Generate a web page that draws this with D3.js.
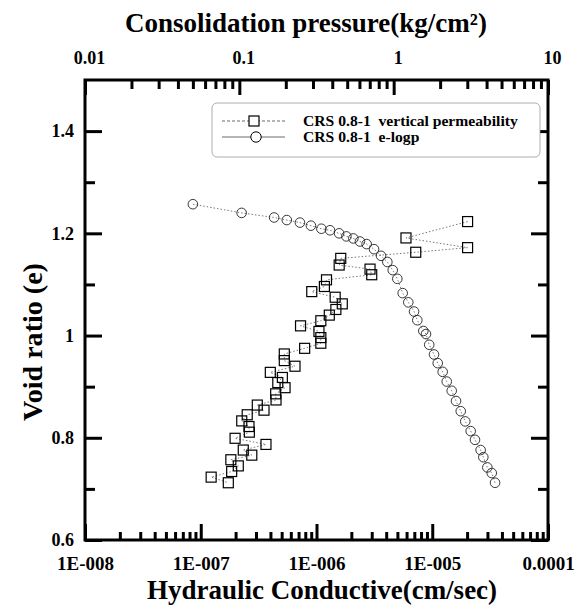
<!DOCTYPE html>
<html><head><meta charset="utf-8">
<script src="https://cdn.jsdelivr.net/npm/d3@7"></script>
<style>body{margin:0;background:#fff}svg{display:block}text{font-family:"Liberation Serif","Times New Roman",serif;font-weight:bold;fill:#000}</style>
</head><body><svg id="c" width="582" height="608"></svg>
<script>
// Hydraulic conductivity (cm/sec) vs void ratio (CRS 0.8-1 vertical permeability)
const kValues = [2.02e-5,5.93e-6,2.02e-5,7.2e-6,1.62e-6,1.57e-6,2.9e-6,3.0e-6,1.22e-6,1.17e-6,9.1e-7,1.45e-6,1.67e-6,1.47e-6,1.29e-6,1.09e-6,7.28e-7,1.05e-6,1.09e-6,1.09e-6,7.9e-7,5.27e-7,5.27e-7,6.52e-7,3.99e-7,5.07e-7,4.63e-7,5.35e-7,4.44e-7,4.47e-7,3.08e-7,3.52e-7,2.52e-7,2.26e-7,2.61e-7,2.63e-7,1.98e-7,3.66e-7,2.33e-7,2.76e-7,1.82e-7,2.11e-7,1.85e-7,1.23e-7,1.73e-7];
const kVoid = [1.223,1.191,1.172,1.163,1.151,1.138,1.130,1.119,1.109,1.096,1.086,1.075,1.062,1.051,1.040,1.029,1.019,1.008,0.996,0.985,0.975,0.964,0.951,0.940,0.928,0.918,0.908,0.898,0.886,0.874,0.864,0.854,0.845,0.833,0.822,0.811,0.799,0.787,0.776,0.766,0.757,0.745,0.734,0.723,0.712];
// Consolidation pressure (kg/cm2) vs void ratio (CRS 0.8-1 e-logp)
const pValues = [0.050,0.1035,0.168,0.203,0.247,0.291,0.340,0.387,0.443,0.494,0.548,0.605,0.668,0.746,0.828,0.910,0.986,1.056,1.144,1.244,1.355,1.423,1.556,1.62,1.70,1.826,1.93,2.078,2.207,2.377,2.535,2.72,2.91,3.155,3.365,3.66,3.81,4.045,4.32,4.54];
const pVoid = [1.257,1.240,1.231,1.226,1.221,1.215,1.209,1.206,1.200,1.194,1.190,1.184,1.179,1.169,1.156,1.144,1.128,1.111,1.083,1.065,1.047,1.030,1.009,1.003,0.982,0.963,0.946,0.929,0.910,0.892,0.872,0.852,0.832,0.813,0.796,0.776,0.762,0.742,0.731,0.712];
const bottomTicks = [1e-8,1e-7,1e-6,1e-5,1e-4];
const bottomLabels = ["1E-008","1E-007","1E-006","1E-005","0.0001"];
const topTicks = [0.01,0.1,1,10];
const topLabels = ["0.01","0.1","1","10"];
const yTicks = [0.6,0.8,1.0,1.2,1.4];
const yLabels = ["0.6","0.8","1","1.2","1.4"];
const yMinor = [0.7,0.9,1.1,1.3];
const legendLabels = ["CRS 0.8-1\u00A0\u00A0vertical permeability","CRS 0.8-1\u00A0\u00A0e-logp"];

const svg = d3.select("#c");
const L=85,R=548,T=80,B=540;
const x = d3.scaleLog().domain([1e-8,1e-4]).range([L,R]);
const xt = d3.scaleLog().domain([0.01,10]).range([L,R]);
const y = d3.scaleLinear().domain([0.6,1.5]).range([B,T]);

function minorsOf(sc){ return sc.ticks().filter(v=>{const l=Math.log10(v);return Math.abs(l-Math.round(l))>1e-6;}); }
function styleAxis(g){ g.select(".domain").remove(); g.selectAll("line").attr("stroke","#000").attr("stroke-width",3); }
function fit(sel, target){ const fs=+sel.attr("font-size"); const w=sel.node().getComputedTextLength(); sel.attr("font-size", fs*target/w); }

// frame
svg.append("rect").attr("x",L).attr("y",T).attr("width",R-L).attr("height",B-T).attr("fill","none").attr("stroke","#000").attr("stroke-width",3);

// bottom axis
svg.append("g").attr("transform",`translate(0,${B})`).call(d3.axisBottom(x).tickValues(minorsOf(x)).tickSize(-8).tickFormat("")).call(styleAxis);
const gb = svg.append("g").attr("transform",`translate(0,${B})`).call(d3.axisBottom(x).tickValues(bottomTicks).tickSize(-16).tickPadding(0).tickFormat((d,i)=>bottomLabels[i])).call(styleAxis);
gb.selectAll("text").attr("font-size",19).attr("dy",0).attr("y",30);
// top axis
svg.append("g").attr("transform",`translate(0,${T})`).call(d3.axisTop(xt).tickValues(minorsOf(xt)).tickSize(-9).tickFormat("")).call(styleAxis);
const gt = svg.append("g").attr("transform",`translate(0,${T})`).call(d3.axisTop(xt).tickValues(topTicks).tickSize(-15).tickPadding(0).tickFormat((d,i)=>topLabels[i])).call(styleAxis);
gt.selectAll("text").attr("font-size",18).attr("dy",0).attr("y",-16).attr("transform","translate(4,0)");
// left axis
svg.append("g").attr("transform",`translate(${L},0)`).call(d3.axisLeft(y).tickValues(yMinor).tickSize(-10).tickFormat("")).call(styleAxis);
const gl = svg.append("g").attr("transform",`translate(${L},0)`).call(d3.axisLeft(y).tickValues(yTicks).tickSize(-17).tickPadding(0).tickFormat((d,i)=>yLabels[i])).call(styleAxis);
gl.selectAll("text").attr("font-size",18).attr("x",-11);
// right axis
svg.append("g").attr("transform",`translate(${R},0)`).call(d3.axisRight(y).tickValues(yMinor).tickSize(-10).tickFormat("")).call(styleAxis);
svg.append("g").attr("transform",`translate(${R},0)`).call(d3.axisRight(y).tickValues(yTicks).tickSize(-17).tickFormat("")).call(styleAxis);

// titles
const t1 = svg.append("text").attr("x",306).attr("y",32).attr("text-anchor","middle").attr("font-size",26).text("Consolidation pressure(kg/cm²)");
fit(t1, 362);
const titleSize = t1.attr("font-size");
svg.append("text").attr("x",322).attr("y",599).attr("text-anchor","middle").attr("font-size",titleSize).text("Hydraulic Conductive(cm/sec)");
const t3 = svg.append("text").attr("transform",`translate(42,${342}) rotate(-90)`).attr("text-anchor","middle").attr("font-size",26).text("Void ratio (e)");
fit(t3, 158);

// series: squares
const kData = kValues.map((k,i)=>({k,e:kVoid[i]}));
svg.append("path").datum(kData).attr("fill","none").attr("stroke","#555").attr("stroke-width",0.8).attr("stroke-dasharray","1.5,2")
  .attr("d",d3.line().x(d=>x(d.k)).y(d=>y(d.e)));
svg.append("g").selectAll("rect").data(kData).join("rect")
  .attr("x",d=>x(d.k)-5).attr("y",d=>y(d.e)-5).attr("width",10).attr("height",10)
  .attr("fill","none").attr("stroke","#000").attr("stroke-width",1.2);
// series: circles
const pData = pValues.map((p,i)=>({p,e:pVoid[i]}));
svg.append("path").datum(pData).attr("fill","none").attr("stroke","#555").attr("stroke-width",0.8).attr("stroke-dasharray","1.5,2")
  .attr("d",d3.line().x(d=>xt(d.p)).y(d=>y(d.e)));
svg.append("g").selectAll("circle").data(pData).join("circle")
  .attr("cx",d=>xt(d.p)).attr("cy",d=>y(d.e)).attr("r",4.8)
  .attr("fill","none").attr("stroke","#222").attr("stroke-width",0.9);

// legend
const lg = svg.append("g");
lg.append("rect").attr("x",212).attr("y",103).attr("width",328).attr("height",54).attr("rx",5)
  .attr("fill","#fff").attr("stroke","#999").attr("stroke-width",0.8);
lg.append("line").attr("x1",222).attr("x2",285).attr("y1",121).attr("y2",121).attr("stroke","#444").attr("stroke-width",0.8).attr("stroke-dasharray","3,2");
lg.append("rect").attr("x",249).attr("y",116).attr("width",10).attr("height",10).attr("fill","#fff").attr("stroke","#000").attr("stroke-width",1.2);
lg.append("line").attr("x1",222).attr("x2",285).attr("y1",137).attr("y2",137).attr("stroke","#444").attr("stroke-width",0.8);
lg.append("circle").attr("cx",256).attr("cy",137).attr("r",5.2).attr("fill","#fff").attr("stroke","#000").attr("stroke-width",1);
const lt = lg.selectAll("text.l").data(legendLabels).join("text").attr("class","l").attr("x",303).attr("y",(d,i)=>126+i*16).attr("font-size",16).text(d=>d);
fit(d3.select(lt.nodes()[0]), 215);
d3.select(lt.nodes()[1]).attr("font-size", d3.select(lt.nodes()[0]).attr("font-size"));
</script></body></html>
